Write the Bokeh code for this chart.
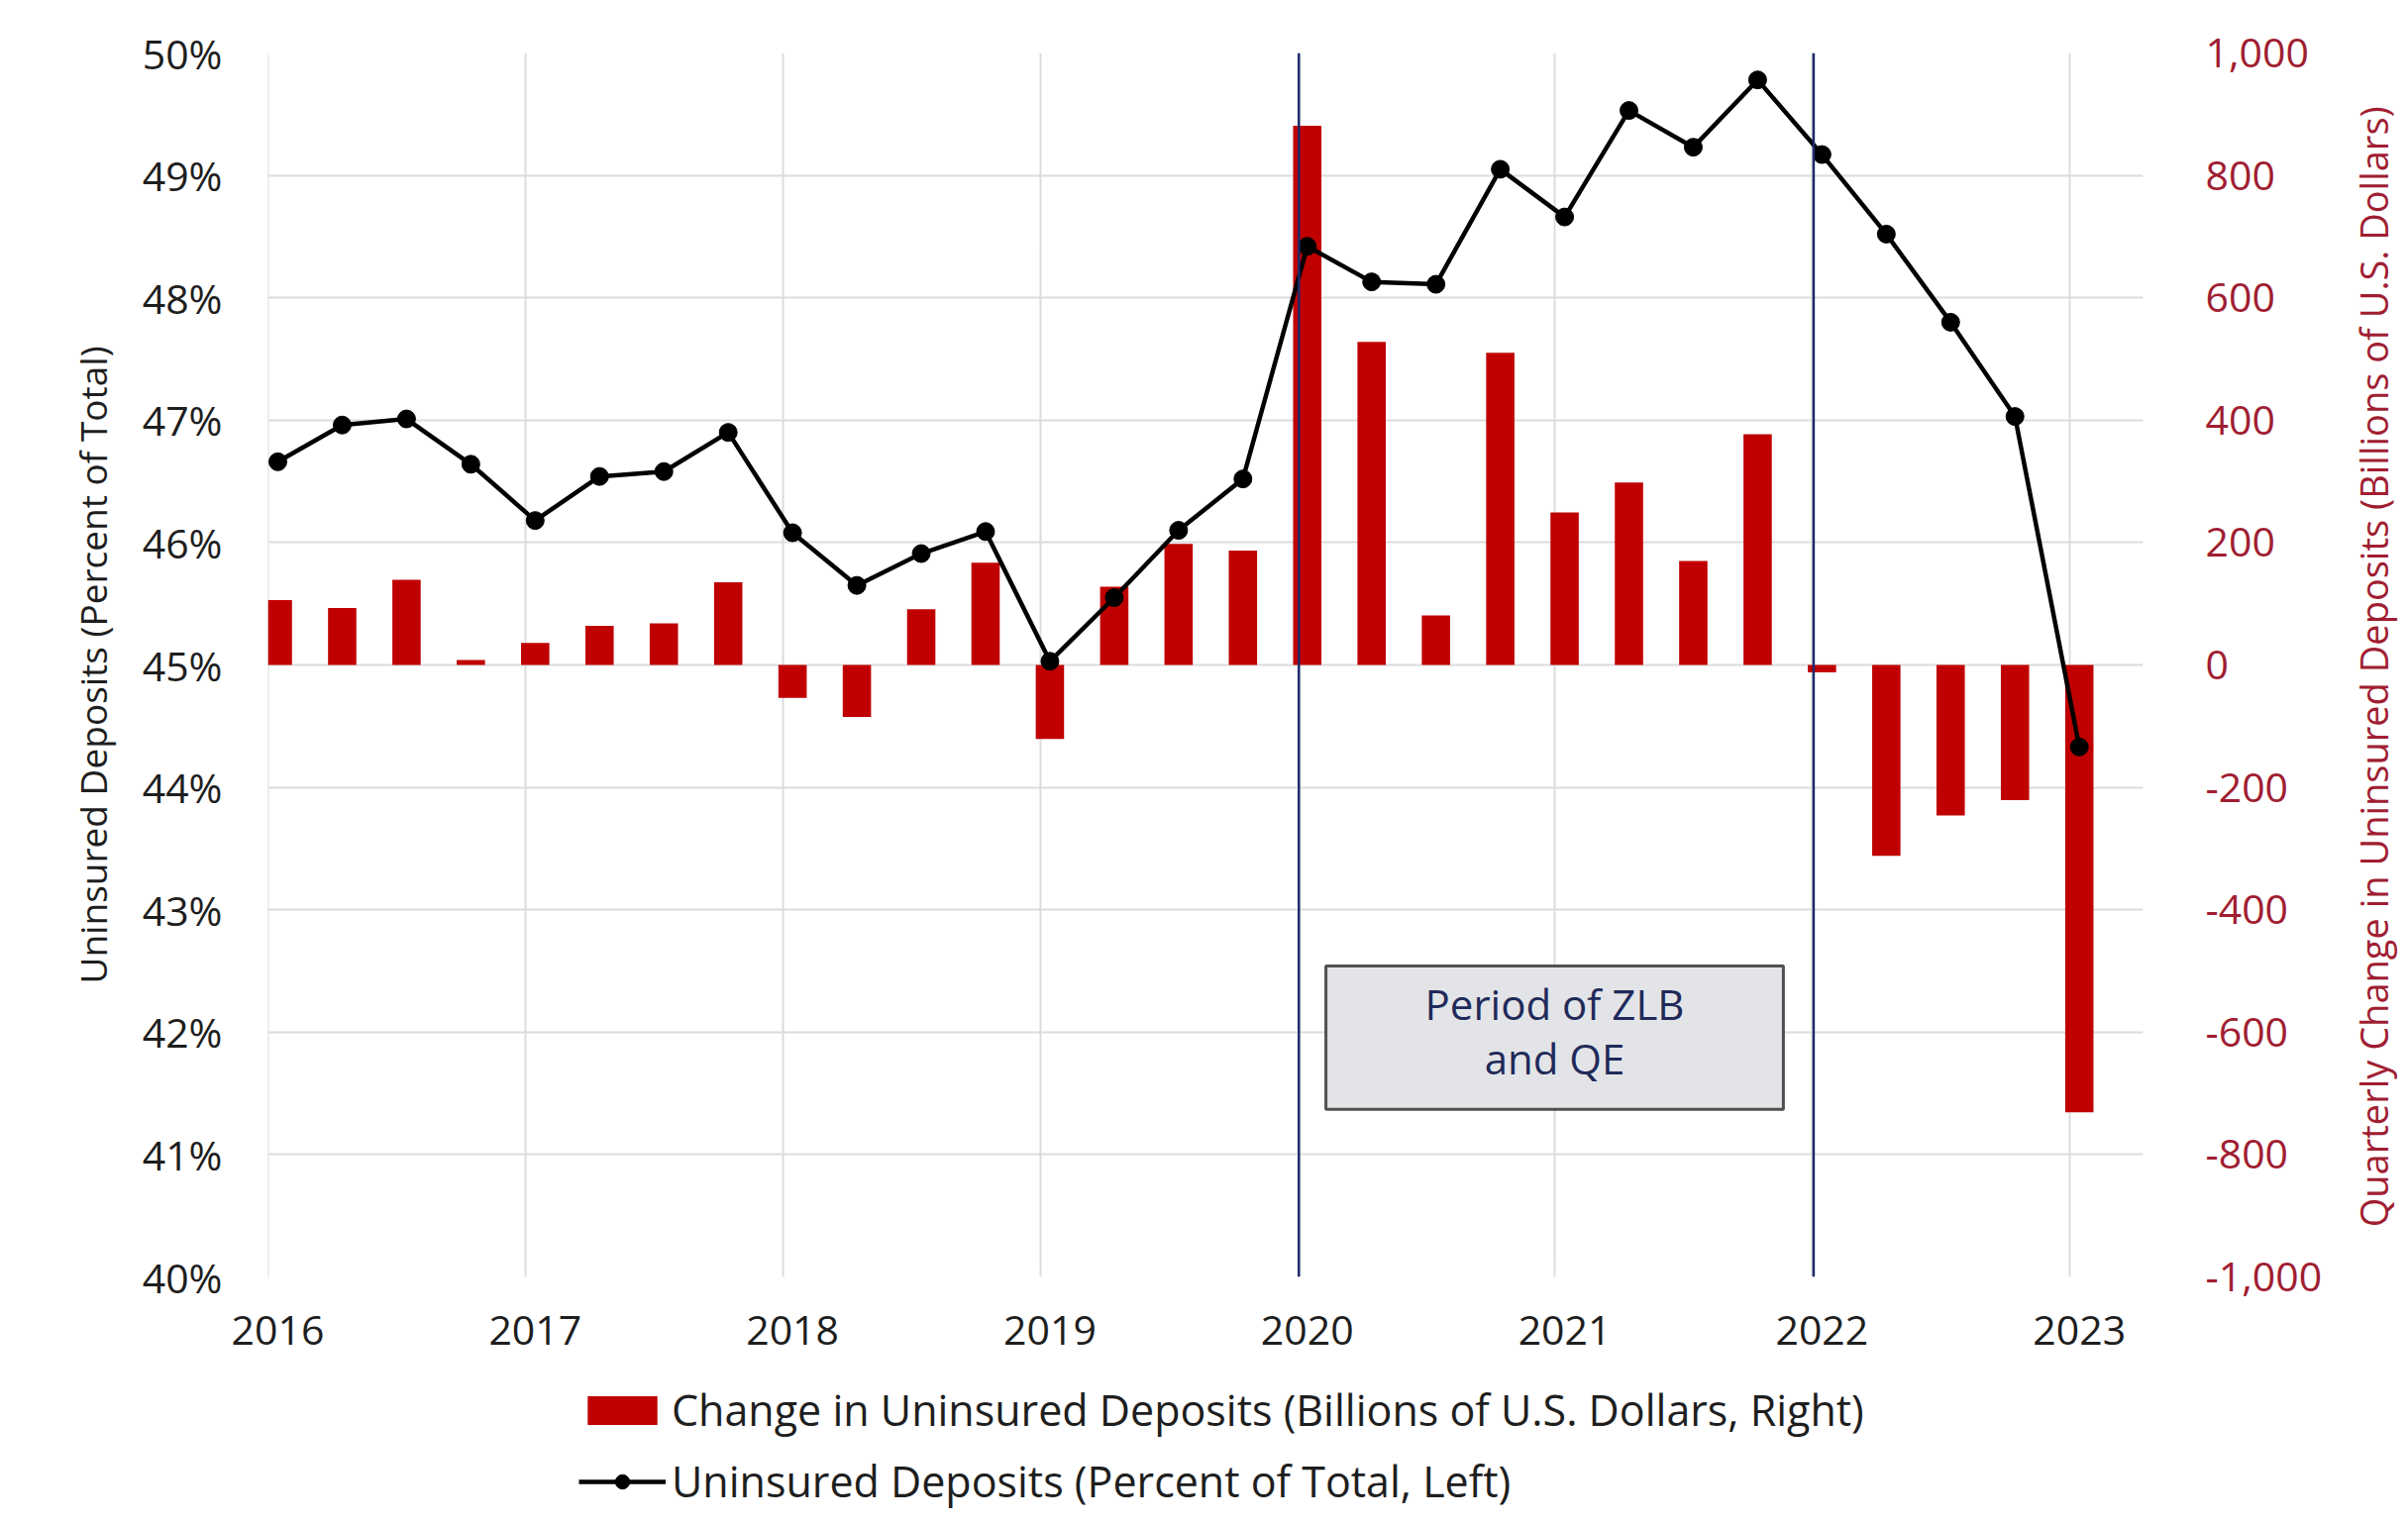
import math
from bokeh.plotting import figure
from bokeh.layouts import row, column
from bokeh.models import (Range1d, LinearAxis, FixedTicker, NumeralTickFormatter,
                          PrintfTickFormatter, Span, Label, BoxAnnotation, Legend,
                          LegendItem, ColumnDataSource)
from bokeh.embed import file_html
from bokeh.resources import INLINE

# ---------------- data ----------------
quarters = ["2016Q1", "2016Q2", "2016Q3", "2016Q4",
            "2017Q1", "2017Q2", "2017Q3", "2017Q4",
            "2018Q1", "2018Q2", "2018Q3", "2018Q4",
            "2019Q1", "2019Q2", "2019Q3", "2019Q4",
            "2020Q1", "2020Q2", "2020Q3", "2020Q4",
            "2021Q1", "2021Q2", "2021Q3", "2021Q4",
            "2022Q1", "2022Q2", "2022Q3", "2022Q4",
            "2023Q1"]
uninsured_pct = [46.66, 46.96, 47.01, 46.64, 46.18, 46.54, 46.58, 46.90,
                 46.08, 45.65, 45.91, 46.09, 45.03, 45.55, 46.10, 46.52,
                 48.42, 48.13, 48.11, 49.05, 48.66, 49.53, 49.23, 49.78,
                 49.17, 48.52, 47.80, 47.03, 44.33]
change_bn = [106, 93, 139, 8, 36, 64, 68, 135,
             -54, -85, 91, 167, -121, 128, 198, 187,
             881, 528, 81, 510, 249, 298, 170, 377,
             -12, -312, -246, -221, -731]
left_ticks = [40, 41, 42, 43, 44, 45, 46, 47, 48, 49, 50]
right_ticks = [-1000, -800, -600, -400, -200, 0, 200, 400, 600, 800, 1000]
zlb_start = "2020Q1"
zlb_end = "2022Q1"
zlb_text = ["Period of ZLB", "and QE"]
left_title = "Uninsured Deposits (Percent of Total)"
right_title = "Quarterly Change in Uninsured Deposits (Billions of U.S. Dollars)"
legend_bar_label = "Change in Uninsured Deposits (Billions of U.S. Dollars, Right)"
legend_line_label = "Uninsured Deposits (Percent of Total, Left)"

# ---------------- styling ----------------
FONT = "Open Sans"
RED = "#C00000"
AXIS_RED = "#A01E32"
NAVY = "#1F2A6B"
TXT = "#1E1E1E"
GRID = "#DCDCDC"
BOUNDARY = -0.15          # year gridlines sit slightly before the Q1 point

TOP, FRAME_H, BOTTOM = 53, 1236, 105
LEFT, FRAME_W, RIGHT = 270, 1893, 177
MAIN_H = TOP + FRAME_H + BOTTOM
MAIN_W = LEFT + FRAME_W + RIGHT
SIDE_W = 85
LEG_H = 136

x_pos = list(range(len(quarters)))
year_ticks = [i for i, q in enumerate(quarters) if q.endswith("Q1")]
year_labels = {i: quarters[i][:4] for i in year_ticks}

src = ColumnDataSource(dict(x=x_pos, pct=uninsured_pct, chg=change_bn, q=quarters))

p = figure(frame_width=FRAME_W, frame_height=FRAME_H,
           min_border_left=LEFT, min_border_right=RIGHT,
           min_border_top=TOP, min_border_bottom=BOTTOM,
           x_range=Range1d(-0.154, 28.99), y_range=Range1d(40, 50),
           output_backend="svg", toolbar_location=None)
p.extra_y_ranges = {"chg": Range1d(-1000, 1000)}
p.outline_line_color = None
p.background_fill_color = "white"
p.border_fill_color = "white"

bar_style = dict(fill_color=RED, line_color=None)
line_style = dict(line_color="black", line_width=4.5)
pt_style = dict(size=18, fill_color="black", line_color="black")

p.vbar(x="x", top="chg", bottom=0, width=0.44, y_range_name="chg", source=src,
       **bar_style)
p.line(x="x", y="pct", source=src, **line_style)
p.scatter(x="x", y="pct", source=src, **pt_style)

# axes
xa = p.xaxis[0]
xa.ticker = FixedTicker(ticks=year_ticks)
xa.major_label_overrides = year_labels
xa.major_label_standoff = 33

ya = p.yaxis[0]
ya.ticker = FixedTicker(ticks=left_ticks)
ya.formatter = PrintfTickFormatter(format="%d%%")
ya.major_label_standoff = 40
ya.axis_label = left_title
ya.axis_label_standoff = 22
ya.axis_label_text_font = FONT
ya.axis_label_text_font_size = "37px"
ya.axis_label_text_font_style = "normal"
ya.axis_label_text_color = TXT

ra = LinearAxis(y_range_name="chg", ticker=FixedTicker(ticks=right_ticks),
                formatter=NumeralTickFormatter(format="0,0"))
ra.major_label_standoff = 57
p.add_layout(ra, "right")

for ax in (xa, ya, ra):
    ax.axis_line_color = None
    ax.major_tick_line_color = None
    ax.minor_tick_line_color = None
    ax.major_label_text_font = FONT
    ax.major_label_text_font_size = "41px"
    ax.major_label_text_color = TXT
ra.major_label_text_color = AXIS_RED

# grid
p.xgrid.ticker = FixedTicker(ticks=[t + BOUNDARY for t in year_ticks])
p.ygrid.ticker = FixedTicker(ticks=left_ticks)
for g in (p.xgrid[0], p.ygrid[0]):
    g.grid_line_color = GRID
    g.grid_line_width = 2

# ZLB markers
i0 = quarters.index(zlb_start)
i1 = quarters.index(zlb_end)
for loc in (i0, i1):
    p.add_layout(Span(location=loc + BOUNDARY + 0.02, dimension="height",
                      line_color=NAVY, line_width=2.5))

box_left, box_right = i0 + 0.29, i1 - 0.60
box_bottom, box_top = 41.37, 42.54
p.add_layout(BoxAnnotation(left=box_left, right=box_right, bottom=box_bottom, top=box_top,
                           fill_color="#E3E4E7", fill_alpha=1.0,
                           line_color="#505050", line_width=3, line_alpha=1.0))
xc = (box_left + box_right) / 2
for txt, yy in zip(zlb_text, (42.23, 41.79)):
    p.add_layout(Label(x=xc, y=yy, text=txt, text_align="center",
                       text_baseline="middle", text_font=FONT,
                       text_font_size="42px", text_color="#1F2A5A"))

# ---------- right-hand axis title (reads bottom-to-top) ----------
pt = figure(width=SIDE_W, height=MAIN_H, min_border=0,
            x_range=Range1d(0, SIDE_W), y_range=Range1d(0, MAIN_H),
            x_axis_type=None, y_axis_type=None,
            output_backend="svg", toolbar_location=None)
pt.outline_line_color = None
pt.border_fill_color = "white"
pt.background_fill_color = "white"
pt.add_layout(Label(x=48, y=MAIN_H - 699, text=right_title, angle=math.pi / 2,
                    text_align="center", text_baseline="middle", text_font=FONT,
                    text_font_size="38px", text_color=AXIS_RED))

# ---------- legend strip below the chart ----------
# The legend renderers reuse the chart's data but sit outside this strip's view,
# so only their legend swatches are visible.
pl = figure(width=MAIN_W + SIDE_W, height=LEG_H,
            min_border_left=584, min_border_top=0, min_border_right=0,
            min_border_bottom=0,
            x_range=Range1d(-1000, -999), y_range=Range1d(-1000, -999),
            x_axis_type=None, y_axis_type=None,
            output_backend="svg", toolbar_location=None)
pl.outline_line_color = None
pl.border_fill_color = "white"
pl.background_fill_color = "white"
leg_bar = pl.vbar(x="x", top="chg", bottom=0, width=0.44, source=src, **bar_style)
leg_line = pl.line(x="x", y="pct", source=src, **line_style)
leg_pt = pl.scatter(x="x", y="pct", source=src, **pt_style)

legend = Legend(items=[
    LegendItem(label=legend_bar_label, renderers=[leg_bar]),
    LegendItem(label=legend_line_label, renderers=[leg_line, leg_pt]),
], location="top_left", orientation="vertical")
legend.border_line_color = None
legend.background_fill_alpha = 0
legend.padding = 0
legend.margin = 0
legend.glyph_width = 88
legend.glyph_height = 36
legend.label_standoff = 6
legend.label_height = 36
legend.spacing = 13
legend.label_text_font = FONT
legend.label_text_font_size = "43px"
legend.label_text_color = TXT
pl.add_layout(legend, "center")

layout = column(row(p, pt, spacing=0), pl, spacing=0)
open("out.html", "w").write(file_html(layout, INLINE))
